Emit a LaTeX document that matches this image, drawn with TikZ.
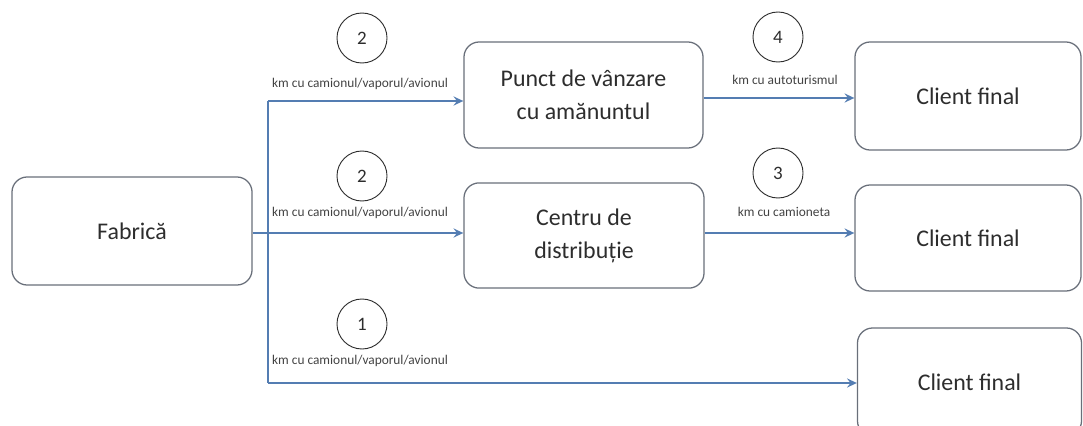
\documentclass[tikz,border=0pt]{standalone}
\usepackage{fontspec}
\setmainfont{Carlito}
\usetikzlibrary{arrows.meta}
\definecolor{linieblue}{RGB}{84,125,178}
\definecolor{chenar}{RGB}{105,111,122}
\definecolor{textgri}{RGB}{45,45,45}
\begin{document}
\begin{tikzpicture}[x=0.025cm,y=-0.025cm,>={Stealth[length=7pt,width=6.5pt,inset=2.5pt]},line join=round,
	cutie/.style={draw=chenar,line width=0.9pt,rounded corners=0.38cm,align=center,text=textgri,font=\fontsize{17}{23.5}\selectfont},
	cerc/.style={draw=textgri,line width=0.65pt,circle,minimum size=1.25cm,inner sep=0pt,text=textgri,font=\fontsize{13.5}{15}\selectfont},
	eticheta/.style={text=textgri!90,inner sep=1pt,font=\fontsize{9.5}{11}\selectfont},
	sageata/.style={->,draw=linieblue,line width=1.4pt}]
	\useasboundingbox (0,0) rectangle (1083,426);
	\node[cutie,minimum width=6cm,minimum height=2.7cm] (fabrica) at (132,231) {Fabrică};
	\node[cutie,minimum width=5.975cm,minimum height=2.65cm] (punct) at (583.5,95) {Punct de vânzare\\cu amănuntul};
	\node[cutie,minimum width=6cm,minimum height=2.63cm] (centru) at (584,235.5) {Centru de\\distribuție};
	\node[cutie,minimum width=5.65cm,minimum height=2.7cm] (client1) at (968,96) {Client final};
	\node[cutie,minimum width=5.65cm,minimum height=2.65cm] (client2) at (968,238) {Client final};
	\node[cutie,minimum width=5.6cm,minimum height=2.7cm] (client3) at (969.5,382) {Client final};
	% cercuri si etichete
	\node[cerc] (n2a) at (362,38) {2};
	\node[eticheta] (e2a) at (360,84) {km cu camionul/vaporul/avionul};
	\node[cerc] (n2b) at (362,176) {2};
	\node[eticheta] (e2b) at (360,213) {km cu camionul/vaporul/avionul};
	\node[cerc] (n1) at (362,324) {1};
	\node[eticheta] (e1) at (360,361) {km cu camionul/vaporul/avionul};
	\node[cerc] (n4) at (778,37) {4};
	\node[eticheta] (e4) at (785,80) {km cu autoturismul};
	\node[cerc] (n3) at (778,173) {3};
	\node[eticheta] (e3) at (784,212) {km cu camioneta};
	% legaturi
	\coordinate (sus) at (268,101);
	\coordinate (jos) at (268,383);
	\draw[sageata] (fabrica.east |- 0,233) -- (centru.west |- 0,233);
	\draw[draw=linieblue,line width=1.4pt] (sus) -- (jos);
	\draw[sageata] (sus) -- (sus -| punct.west);
	\draw[sageata] (jos) -- (jos -| client3.west);
	\draw[sageata] (punct.east |- 0,98) -- (client1.west |- 0,98);
	\draw[sageata] (centru.east |- 0,233) -- (client2.west |- 0,233);
\end{tikzpicture}
\end{document}
